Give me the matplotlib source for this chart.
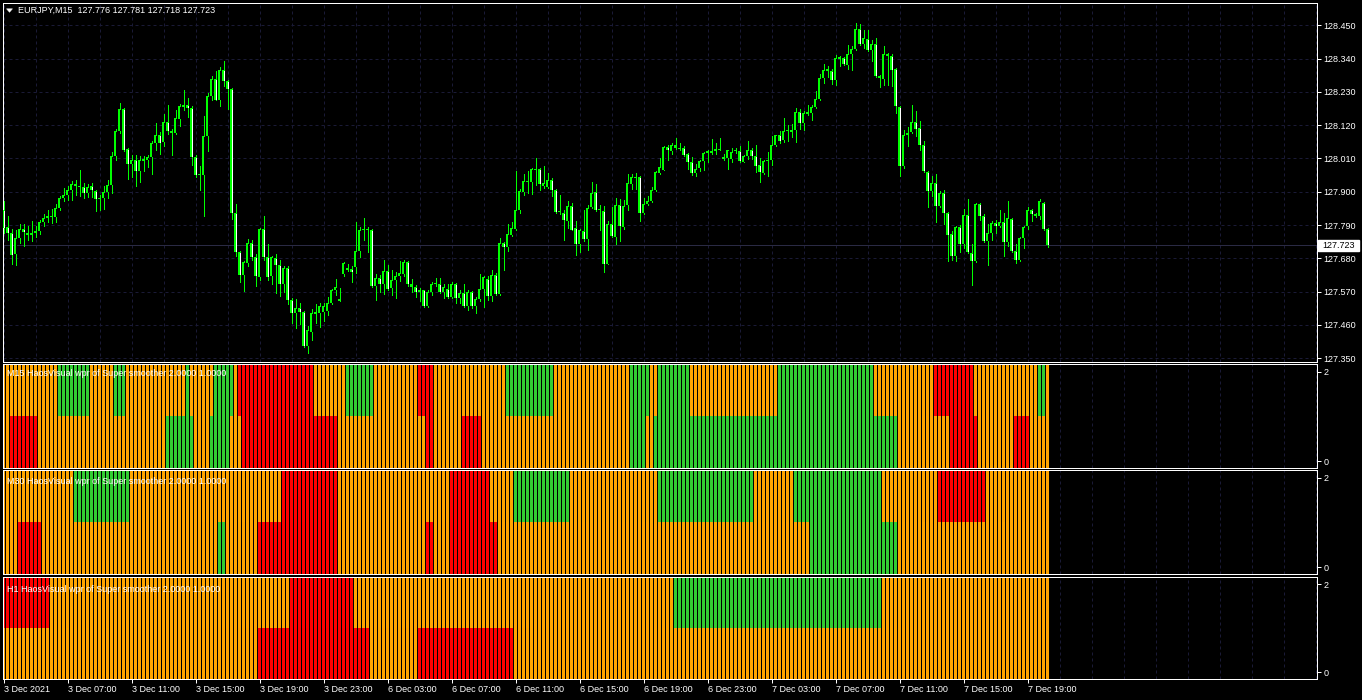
import numpy as np
import matplotlib
matplotlib.use("Agg")
import matplotlib.pyplot as plt
from matplotlib.patches import Polygon, Rectangle
from matplotlib.transforms import blended_transform_factory

plt.rcParams['font.family'] = ['Liberation Sans', 'DejaVu Sans']

W, H = 1362, 700

# ---------------------------------------------------------------------------
# EURJPY M15 candles (one value per bar, oldest first)
# ---------------------------------------------------------------------------
opens = [
    127.839, 127.784, 127.764, 127.693, 127.748, 127.777, 127.764, 127.757, 127.764, 127.770,
    127.799, 127.812, 127.821, 127.816, 127.847, 127.880, 127.891, 127.907, 127.927, 127.918,
    127.917, 127.896, 127.920, 127.903, 127.875, 127.878, 127.898, 127.922, 128.017, 128.102,
    128.173, 128.041, 127.992, 128.006, 127.968, 128.001, 128.006, 128.015, 128.061, 128.089,
    128.063, 128.131, 128.102, 128.094, 128.142, 128.180, 128.186, 128.177, 128.015, 127.955,
    127.954, 128.083, 128.215, 128.272, 128.204, 128.303, 128.266, 128.239, 127.830, 127.700,
    127.624, 127.665, 127.731, 127.684, 127.619, 127.777, 127.684, 127.621, 127.682, 127.657,
    127.596, 127.649, 127.542, 127.500, 127.517, 127.503, 127.390, 127.436, 127.497, 127.500,
    127.502, 127.506, 127.531, 127.575, 127.547, 127.627, 127.649, 127.645, 127.652, 127.704,
    127.773, 127.775, 127.775, 127.588, 127.616, 127.597, 127.638, 127.582, 127.608, 127.621,
    127.629, 127.668, 127.594, 127.584, 127.569, 127.574, 127.522, 127.569, 127.594, 127.597,
    127.568, 127.579, 127.553, 127.597, 127.550, 127.564, 127.524, 127.569, 127.522, 127.546,
    127.579, 127.613, 127.555, 127.625, 127.563, 127.731, 127.717, 127.756, 127.777, 127.841,
    127.898, 127.937, 127.934, 127.975, 127.975, 127.918, 127.916, 127.939, 127.906, 127.832,
    127.830, 127.803, 127.854, 127.781, 127.728, 127.772, 127.744, 127.849, 127.899, 127.839,
    127.838, 127.662, 127.795, 127.751, 127.856, 127.783, 127.855, 127.927, 127.949, 127.949,
    127.830, 127.860, 127.869, 127.905, 127.963, 127.973, 128.048, 128.034, 128.053, 128.045,
    128.045, 128.026, 127.998, 127.962, 127.977, 128.002, 128.028, 128.034, 128.034, 128.041,
    128.016, 128.013, 128.009, 128.037, 128.034, 127.999, 128.017, 128.038, 128.019, 127.987,
    127.962, 128.003, 128.004, 128.053, 128.087, 128.070, 128.100, 128.097, 128.105, 128.163,
    128.127, 128.158, 128.160, 128.180, 128.206, 128.276, 128.300, 128.300, 128.268, 128.339,
    128.342, 128.320, 128.355, 128.371, 128.437, 128.388, 128.404, 128.367, 128.389, 128.276,
    128.272, 128.355, 128.347, 128.305, 128.180, 127.984, 128.089, 128.096, 128.130, 128.111,
    128.054, 127.965, 127.902, 127.929, 127.852, 127.896, 127.830, 127.759, 127.687, 127.784,
    127.726, 127.823, 127.698, 127.671, 127.861, 127.819, 127.737, 127.764, 127.797, 127.786,
    127.800, 127.734, 127.811, 127.706, 127.674, 127.748, 127.786, 127.841, 127.819, 127.819,
    127.863, 127.776,
]
highs = [
    127.869, 127.819, 127.777, 127.775, 127.792, 127.795, 127.786, 127.804, 127.788, 127.808,
    127.825, 127.839, 127.843, 127.861, 127.887, 127.913, 127.918, 127.935, 127.940, 127.973,
    127.929, 127.927, 127.929, 127.905, 127.891, 127.918, 127.940, 128.032, 128.107, 128.193,
    128.177, 128.045, 128.023, 128.021, 128.017, 128.017, 128.021, 128.067, 128.127, 128.096,
    128.158, 128.186, 128.107, 128.171, 128.191, 128.237, 128.210, 128.182, 128.021, 127.984,
    128.151, 128.226, 128.283, 128.298, 128.312, 128.333, 128.270, 128.243, 127.861, 127.704,
    127.671, 127.744, 127.742, 127.693, 127.781, 127.821, 127.726, 127.689, 127.693, 127.674,
    127.656, 127.654, 127.550, 127.547, 127.531, 127.506, 127.456, 127.513, 127.528, 127.533,
    127.533, 127.552, 127.579, 127.612, 127.582, 127.667, 127.660, 127.654, 127.799, 127.783,
    127.814, 127.784, 127.777, 127.630, 127.625, 127.676, 127.657, 127.643, 127.634, 127.673,
    127.676, 127.671, 127.612, 127.591, 127.582, 127.576, 127.574, 127.601, 127.616, 127.616,
    127.594, 127.594, 127.601, 127.599, 127.574, 127.597, 127.575, 127.572, 127.552, 127.627,
    127.623, 127.623, 127.643, 127.632, 127.748, 127.733, 127.792, 127.799, 127.970, 127.909,
    127.960, 127.968, 127.979, 128.013, 127.979, 127.984, 127.962, 127.946, 127.909, 127.891,
    127.839, 127.869, 127.863, 127.803, 127.777, 127.841, 127.858, 127.931, 127.926, 127.858,
    127.852, 127.803, 127.850, 127.880, 127.876, 127.874, 127.960, 127.960, 127.962, 127.953,
    127.880, 127.887, 127.916, 127.968, 128.012, 128.052, 128.054, 128.061, 128.078, 128.061,
    128.050, 128.028, 128.015, 127.992, 128.004, 128.032, 128.039, 128.074, 128.061, 128.078,
    128.026, 128.039, 128.045, 128.045, 128.050, 128.023, 128.069, 128.045, 128.056, 128.012,
    128.006, 128.031, 128.083, 128.089, 128.102, 128.144, 128.122, 128.125, 128.177, 128.173,
    128.166, 128.188, 128.188, 128.232, 128.290, 128.322, 128.316, 128.305, 128.353, 128.349,
    128.345, 128.384, 128.380, 128.457, 128.455, 128.435, 128.433, 128.402, 128.408, 128.287,
    128.382, 128.358, 128.356, 128.309, 128.184, 128.105, 128.114, 128.188, 128.166, 128.133,
    128.067, 127.968, 127.953, 127.960, 127.902, 127.907, 127.833, 127.772, 127.786, 127.789,
    127.843, 127.877, 127.726, 127.863, 127.863, 127.825, 127.795, 127.805, 127.806, 127.841,
    127.830, 127.869, 127.814, 127.726, 127.751, 127.788, 127.849, 127.843, 127.830, 127.876,
    127.865, 127.781,
]
lows = [
    127.764, 127.742, 127.660, 127.657, 127.731, 127.720, 127.742, 127.737, 127.751, 127.759,
    127.786, 127.799, 127.797, 127.799, 127.839, 127.869, 127.874, 127.874, 127.891, 127.885,
    127.880, 127.882, 127.882, 127.837, 127.841, 127.843, 127.880, 127.896, 128.006, 128.094,
    128.034, 127.942, 127.948, 127.918, 127.931, 127.968, 127.982, 127.960, 128.039, 128.026,
    128.050, 128.090, 128.020, 128.090, 128.116, 128.171, 128.147, 127.987, 127.949, 127.905,
    127.819, 128.034, 128.204, 128.202, 128.185, 128.250, 128.175, 127.810, 127.689, 127.601,
    127.572, 127.654, 127.676, 127.588, 127.610, 127.676, 127.607, 127.594, 127.566, 127.555,
    127.568, 127.528, 127.467, 127.451, 127.462, 127.388, 127.368, 127.412, 127.467, 127.454,
    127.472, 127.494, 127.528, 127.560, 127.538, 127.623, 127.638, 127.601, 127.632, 127.685,
    127.740, 127.701, 127.586, 127.542, 127.568, 127.562, 127.577, 127.558, 127.548, 127.605,
    127.623, 127.590, 127.569, 127.552, 127.538, 127.520, 127.520, 127.560, 127.588, 127.566,
    127.550, 127.550, 127.550, 127.533, 127.533, 127.520, 127.509, 127.515, 127.498, 127.538,
    127.520, 127.544, 127.538, 127.560, 127.560, 127.641, 127.704, 127.753, 127.775, 127.830,
    127.891, 127.896, 127.893, 127.924, 127.905, 127.913, 127.913, 127.885, 127.830, 127.825,
    127.740, 127.781, 127.773, 127.690, 127.701, 127.737, 127.707, 127.847, 127.838, 127.773,
    127.634, 127.660, 127.751, 127.726, 127.737, 127.777, 127.839, 127.909, 127.910, 127.803,
    127.828, 127.858, 127.866, 127.902, 127.960, 127.971, 128.006, 128.026, 128.042, 128.037,
    128.019, 127.975, 127.957, 127.951, 127.968, 127.973, 127.998, 128.026, 128.026, 128.037,
    128.006, 127.976, 127.997, 128.028, 127.998, 127.997, 128.008, 128.009, 127.965, 127.931,
    127.959, 127.953, 127.987, 128.050, 128.061, 128.063, 128.067, 128.081, 128.063, 128.107,
    128.105, 128.155, 128.136, 128.177, 128.204, 128.261, 128.279, 128.255, 128.254, 128.314,
    128.318, 128.305, 128.301, 128.367, 128.386, 128.375, 128.364, 128.331, 128.279, 128.246,
    128.254, 128.254, 128.250, 128.160, 127.951, 127.979, 128.050, 128.094, 128.083, 128.039,
    127.965, 127.850, 127.887, 127.799, 127.850, 127.795, 127.671, 127.676, 127.671, 127.701,
    127.715, 127.698, 127.591, 127.667, 127.808, 127.734, 127.657, 127.742, 127.764, 127.783,
    127.689, 127.720, 127.700, 127.665, 127.671, 127.715, 127.777, 127.803, 127.817, 127.810,
    127.775, 127.718,
]
closes = [
    127.781, 127.764, 127.690, 127.748, 127.777, 127.767, 127.757, 127.764, 127.772, 127.800,
    127.814, 127.821, 127.816, 127.847, 127.880, 127.891, 127.906, 127.927, 127.920, 127.915,
    127.896, 127.917, 127.906, 127.875, 127.881, 127.899, 127.922, 128.019, 128.102, 128.173,
    128.039, 127.992, 128.006, 127.968, 128.006, 128.008, 128.015, 128.061, 128.089, 128.061,
    128.131, 128.100, 128.094, 128.145, 128.184, 128.186, 128.177, 128.015, 127.954, 127.960,
    128.085, 128.216, 128.272, 128.204, 128.303, 128.267, 128.239, 127.830, 127.701, 127.624,
    127.667, 127.731, 127.684, 127.621, 127.777, 127.684, 127.619, 127.684, 127.657, 127.596,
    127.649, 127.542, 127.500, 127.517, 127.502, 127.390, 127.442, 127.500, 127.502, 127.524,
    127.524, 127.533, 127.574, 127.586, 127.538, 127.665, 127.641, 127.634, 127.706, 127.775,
    127.775, 127.773, 127.588, 127.616, 127.597, 127.638, 127.579, 127.610, 127.623, 127.632,
    127.668, 127.594, 127.586, 127.569, 127.574, 127.522, 127.569, 127.594, 127.597, 127.568,
    127.586, 127.553, 127.597, 127.548, 127.566, 127.522, 127.569, 127.522, 127.546, 127.579,
    127.618, 127.555, 127.625, 127.563, 127.731, 127.717, 127.759, 127.781, 127.841, 127.904,
    127.937, 127.932, 127.976, 127.973, 127.927, 127.929, 127.939, 127.905, 127.832, 127.834,
    127.806, 127.854, 127.775, 127.728, 127.773, 127.744, 127.847, 127.896, 127.839, 127.844,
    127.662, 127.795, 127.753, 127.856, 127.786, 127.854, 127.929, 127.949, 127.944, 127.830,
    127.860, 127.871, 127.905, 127.965, 127.983, 128.048, 128.037, 128.054, 128.045, 128.042,
    128.023, 127.997, 127.962, 127.975, 128.002, 128.028, 128.034, 128.028, 128.041, 128.037,
    128.008, 128.037, 128.032, 128.035, 128.001, 128.019, 128.039, 128.017, 127.984, 127.964,
    128.003, 128.006, 128.054, 128.087, 128.067, 128.100, 128.103, 128.105, 128.163, 128.127,
    128.160, 128.162, 128.180, 128.206, 128.276, 128.303, 128.306, 128.268, 128.342, 128.344,
    128.321, 128.356, 128.373, 128.437, 128.388, 128.408, 128.367, 128.389, 128.281, 128.283,
    128.355, 128.347, 128.301, 128.182, 127.984, 128.089, 128.094, 128.130, 128.108, 128.053,
    127.968, 127.902, 127.929, 127.852, 127.896, 127.830, 127.756, 127.687, 127.784, 127.726,
    127.823, 127.701, 127.671, 127.861, 127.819, 127.737, 127.764, 127.797, 127.786, 127.800,
    127.734, 127.814, 127.704, 127.674, 127.748, 127.784, 127.841, 127.825, 127.828, 127.871,
    127.777, 127.723,
]

price_ticks = [128.450, 128.340, 128.230, 128.120, 128.010, 127.900,
               127.790, 127.680, 127.570, 127.460, 127.350]

time_label_bars = [0, 16, 32, 48, 64, 80, 96, 112, 128, 144, 160, 176, 192, 208, 224, 240, 256]
time_labels = ["3 Dec 2021", "3 Dec 07:00", "3 Dec 11:00", "3 Dec 15:00", "3 Dec 19:00",
               "3 Dec 23:00", "6 Dec 03:00", "6 Dec 07:00", "6 Dec 11:00", "6 Dec 15:00",
               "6 Dec 19:00", "6 Dec 23:00", "7 Dec 03:00", "7 Dec 07:00", "7 Dec 11:00",
               "7 Dec 15:00", "7 Dec 19:00"]

# ---------------------------------------------------------------------------
# HaosVisual states, run-length encoded: (state, number of bars)
# upper half = level 1..2, lower half = level 0..1
# ---------------------------------------------------------------------------
m15_upper = [("o", 14), ("g", 8), ("o", 6), ("g", 3), ("o", 15), ("g", 1), ("o", 6), ("g", 5),
             ("o", 1), ("r", 19), ("o", 8), ("g", 7), ("o", 11), ("r", 4), ("o", 18), ("g", 12),
             ("o", 19), ("g", 5), ("o", 2), ("g", 8), ("o", 22), ("g", 24), ("o", 15), ("r", 10),
             ("o", 16), ("g", 2), ("o", 1)]
m15_lower = [("o", 2), ("r", 7), ("o", 32), ("g", 7), ("o", 4), ("g", 5), ("o", 3), ("r", 24),
             ("o", 22), ("r", 2), ("o", 7), ("r", 5), ("o", 37), ("g", 4), ("o", 2), ("g", 61),
             ("o", 13), ("r", 7), ("o", 9), ("r", 4), ("o", 5)]
m30_upper = [("o", 18), ("g", 14), ("o", 38), ("r", 14), ("o", 28), ("r", 10), ("o", 6), ("g", 14),
             ("o", 22), ("g", 24), ("o", 10), ("g", 22), ("o", 14), ("r", 12), ("o", 16)]
m30_lower = [("o", 4), ("r", 6), ("o", 44), ("g", 2), ("o", 8), ("r", 20), ("o", 22), ("r", 2),
             ("o", 4), ("r", 12), ("o", 78), ("g", 22), ("o", 38)]
h1_upper = [("r", 12), ("o", 60), ("r", 16), ("o", 80), ("g", 52), ("o", 42)]
h1_lower = [("o", 64), ("r", 28), ("o", 12), ("r", 24), ("o", 134)]

pane_titles = ["M15 HaosVisual wpr of Super smoother 2.0000 1.0000",
               "M30 HaosVisual wpr of Super smoother 2.0000 1.0000",
               "H1 HaosVisual wpr of Super smoother 2.0000 1.0000"]

# ---------------------------------------------------------------------------
# Style
# ---------------------------------------------------------------------------
LIME = "#00FF00"
GRID = "#1a1a36"
STATE_COLORS = {"o": "#FFA500", "g": "#32CD32", "r": "#FF0000"}
FS = 6.5
LW = 0.72          # one pixel at 100 dpi


def expand(runs):
    out = []
    for state, n in runs:
        out += [STATE_COLORS[state]] * n
    return out


fig = plt.figure(figsize=(W / 100, H / 100), dpi=100, facecolor="black")


def px_axes(x0, y0, x1, y1):
    return fig.add_axes([x0 / W, 1 - y1 / H, (x1 - x0) / W, (y1 - y0) / H])


X_LEFT, X_RIGHT = 3, 1317
xlim = ((X_LEFT - 3.5) / 4, (X_RIGHT - 3.5) / 4)   # 4 px per bar


def style_axes(ax):
    ax.set_facecolor("black")
    for s in ax.spines.values():
        s.set_color("white")
        s.set_linewidth(LW)
    ax.set_xlim(*xlim)
    ax.yaxis.tick_right()
    ax.tick_params(axis="y", colors="white", labelcolor="white", length=3, width=LW,
                   pad=1.5, labelsize=FS, left=False)
    ax.tick_params(axis="x", bottom=False, labelbottom=False)


def vgrid(ax):
    for k in range(0, int(xlim[1]) + 1, 8):
        ax.axvline(k, color=GRID, lw=LW, dashes=(3, 3), zorder=0)


# ---------------------------------------------------------------------------
# Main price chart
# ---------------------------------------------------------------------------
Y_TOP, Y_BOT = 3, 362
ylim = (127.3377, 128.5237)
ax = px_axes(X_LEFT, Y_TOP, X_RIGHT, Y_BOT)
style_axes(ax)
ax.set_ylim(*ylim)
vgrid(ax)
for p in price_ticks:
    ax.axhline(p, color=GRID, lw=LW, dashes=(3, 3), zorder=0)

one_px = (ylim[1] - ylim[0]) / (Y_BOT - Y_TOP)     # price span of one pixel
o, h, l, c = (np.array(v) for v in (opens, highs, lows, closes))
idx = np.arange(len(c))
hi = np.maximum(h, np.maximum(o, c))
lo = np.minimum(l, np.minimum(o, c))
ax.vlines(idx, lo, hi, color=LIME, lw=LW, antialiased=False, zorder=2)

# body: 3 px wide lime block, inner 1 px column black (bull) or white (bear)
bull = c >= o
body_bot = np.minimum(o, c)
body_h = np.maximum(np.abs(c - o), one_px)
ax.bar(idx, body_h, bottom=body_bot, width=0.8, color=LIME, linewidth=0,
       antialiased=False, zorder=3)
inner = body_h > 2.5 * one_px
for sel, col in ((bull & inner, "black"), (~bull & inner, "white")):
    ax.vlines(idx[sel], body_bot[sel] + one_px, body_bot[sel] + body_h[sel] - one_px,
              color=col, lw=LW, antialiased=False, zorder=4)

ax.set_yticks(price_ticks)
ax.set_yticklabels([f"{p:.3f}" for p in price_ticks])

# last price line and tag
last = closes[-1]
ax.axhline(last, color="#2a2a44", lw=LW, zorder=1)
bt = blended_transform_factory(ax.transAxes, ax.transData)
ax_w = X_RIGHT - X_LEFT
ax.add_patch(Rectangle((1 + 0.7 / ax_w, last - 5.3 * one_px), 41 / ax_w, 10.6 * one_px,
                       transform=bt, facecolor="white", edgecolor="white",
                       clip_on=False, zorder=5))
ax.text(1 + 5.3 / ax_w, last, f"{last:.3f}", transform=bt, ha="left", va="center",
        fontsize=FS, color="black", zorder=6, clip_on=False)

# title
fig.text(18 / W, 1 - 10.7 / H,
         f"EURJPY,M15  {opens[-1]:.3f} {highs[-1]:.3f} {lows[-1]:.3f} {closes[-1]:.3f}",
         color="white", fontsize=FS, va="center", ha="left")
tri = [[6.5 / W, 1 - 8.8 / H], [12.5 / W, 1 - 8.8 / H], [9.5 / W, 1 - 12.3 / H]]
fig.add_artist(Polygon(tri, closed=True, transform=fig.transFigure,
                       facecolor="white", edgecolor="white", lw=0.3))

# ---------------------------------------------------------------------------
# Indicator panes
# ---------------------------------------------------------------------------
panes = [
    ((364, 468), m15_upper, m15_lower, pane_titles[0], 373.5),
    ((470, 574), m30_upper, m30_lower, pane_titles[1], 481.0),
    ((576.5, 679), h1_upper, h1_lower, pane_titles[2], 589.0),
]
pane_axes = []
for (y0, y1), upper, lower, title, ty in panes:
    pax = px_axes(X_LEFT, y0, X_RIGHT, y1)
    style_axes(pax)
    pax.set_ylim(-0.15, 2.17)
    vgrid(pax)
    up_cols = expand(upper)
    lo_cols = expand(lower)
    bx = np.arange(len(up_cols))
    pax.bar(bx, 1.0 + 0.3, bottom=1.0, width=0.8, color=up_cols,
            linewidth=0, antialiased=False, zorder=2)
    bx = np.arange(len(lo_cols))
    pax.bar(bx, 1.3, bottom=-0.3, width=0.8, color=lo_cols,
            linewidth=0, antialiased=False, zorder=2)
    pax.set_yticks([0, 2])
    pax.set_yticklabels(["0", "2"])
    fig.text(7 / W, 1 - ty / H, title, color="white", fontsize=FS, va="center", ha="left")
    pane_axes.append(pax)

ax3 = pane_axes[-1]
ax3.tick_params(axis="x", bottom=True, labelbottom=True, colors="white", length=3,
                width=LW, pad=1.5, labelsize=FS)
ax3.set_xticks(time_label_bars)
ax3.set_xticklabels(time_labels)
for t in ax3.get_xticklabels():
    t.set_ha("left")

fig.savefig("out.png", dpi=100, facecolor="black")
